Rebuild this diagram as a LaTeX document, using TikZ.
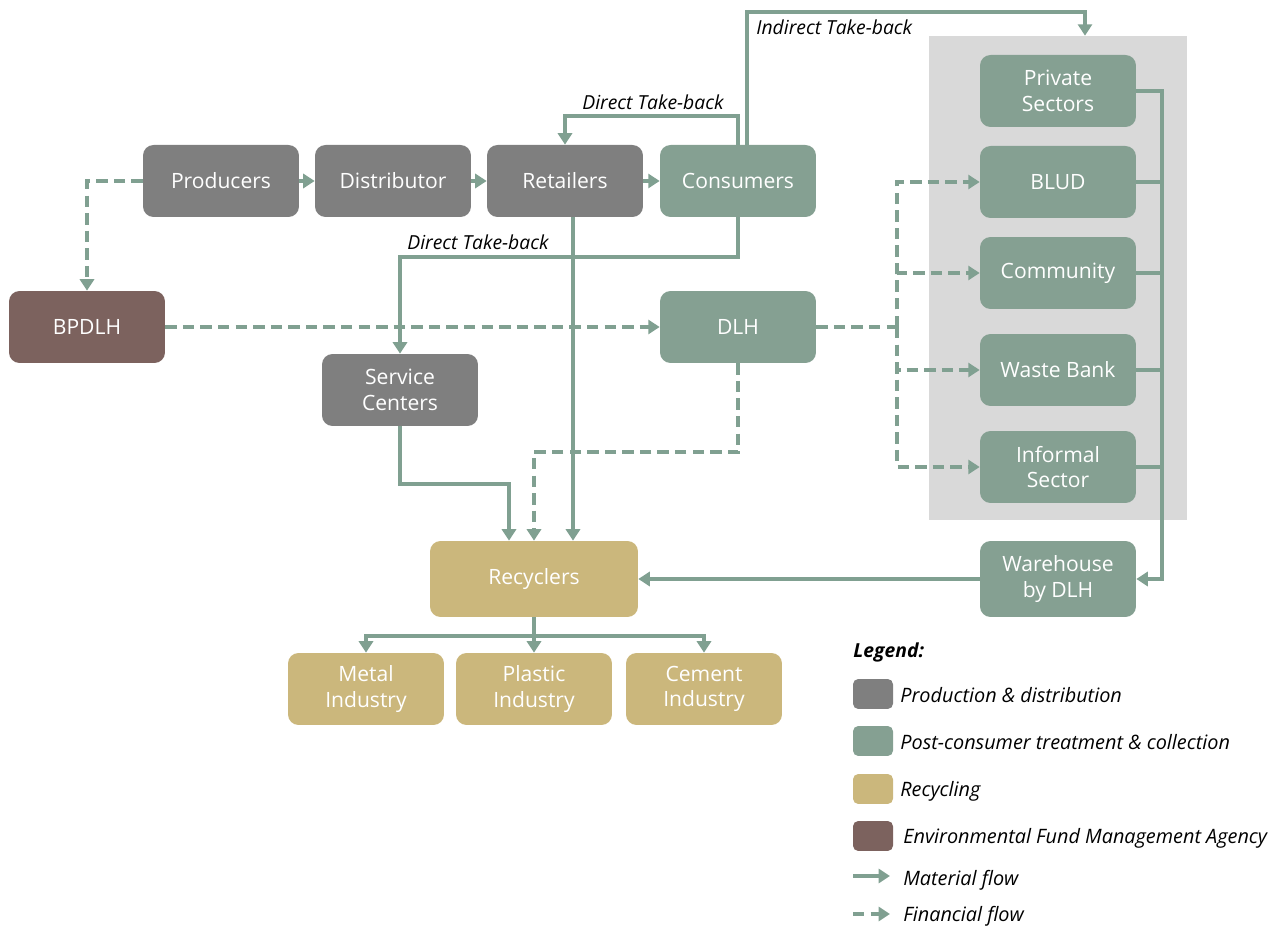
\documentclass[tikz,border=0pt]{standalone}
\usepackage{fontspec}
\setmainfont{Open Sans}
\usetikzlibrary{arrows.meta,calc}
\definecolor{cgray}{RGB}{127,127,127}
\definecolor{cgreen}{RGB}{133,160,146}
\definecolor{ctan}{RGB}{203,183,124}
\definecolor{cbrown}{RGB}{124,98,94}
\definecolor{cbg}{RGB}{217,217,217}
\definecolor{cline}{RGB}{128,160,145}
\begin{document}
\begin{tikzpicture}[x=0.02cm,y=-0.02cm,
  box/.style={rounded corners=6pt, minimum width=3.12cm, minimum height=1.44cm, text=white,
    font=\fontsize{12}{14.5}\selectfont, align=center, inner sep=2pt},
  pd/.style={box, fill=cgray},
  pc/.style={box, fill=cgreen},
  rc/.style={box, fill=ctan},
  ag/.style={box, fill=cbrown},
  mat/.style={draw=cline, line width=2.2pt, -{Triangle[width=8pt,length=6.5pt]}},
  fin/.style={mat, dash pattern=on 6.5pt off 3.5pt},
  plain/.style={draw=cline, line width=2.2pt},
  lbl/.style={font=\fontsize{11}{13}\selectfont\itshape, anchor=west, inner sep=0pt},
  leg/.style={font=\fontsize{11.3}{13}\selectfont\itshape, anchor=west, inner sep=0pt},
  sw/.style={rounded corners=3pt, minimum width=0.8cm, minimum height=0.6cm, inner sep=0pt}
]
\useasboundingbox (0,0) rectangle (1282,928);
% background group
\node[fill=cbg, minimum width=5.16cm, minimum height=9.68cm, inner sep=0pt] (grp) at (1058,278) {};
% nodes
\node[pd] (prod) at (221,181) {Producers};
\node[pd] (dist) at (393,181) {Distributor};
\node[pd] (ret) at (565,181) {Retailers};
\node[pc] (cons) at (738,181) {Consumers};
\node[ag] (bp) at (87,327) {BPDLH};
\node[pc] (dlh) at (738,327) {DLH};
\node[pd] (sc) at (400,390) {Service\\Centers};
\node[rc, minimum width=4.16cm, minimum height=1.52cm] (rec) at (534,579) {Recyclers};
\node[rc] (metal) at (366,689) {Metal\\Industry};
\node[rc] (plast) at (534,689) {Plastic\\Industry};
\node[rc] (cem) at (704,689) {Cement\\Industry};
\node[pc] (priv) at (1058,91) {Private\\Sectors};
\node[pc] (blud) at (1058,182) {BLUD};
\node[pc] (com) at (1058,273) {Community};
\node[pc] (wb) at (1058,370) {Waste Bank};
\node[pc] (inf) at (1058,467) {Informal\\Sector};
\node[pc, minimum height=1.52cm] (wh) at (1058,579) {Warehouse\\by DLH};
% material flows
\draw[mat] (prod) -- (dist);
\draw[mat] (dist) -- (ret);
\draw[mat] (ret) -- (cons);
\draw[mat] (cons.north) -- ++(0,-29) -| (ret.north);
\coordinate (itk) at (1085,12);
\draw[mat] ([xshift=0.18cm]cons.north) |- (itk) -- (grp.north -| itk);
\draw[mat] (cons.south) -- ++(0,40) -| (sc.north);
\draw[mat] ([xshift=0.16cm]ret.south) -- ([xshift=0.16cm]ret.south |- rec.north);
\draw[mat] (sc.south) -- ++(0,58) -| ([xshift=-0.5cm]rec.north);
\coordinate (rb) at (1162,91);
\draw[mat] (priv.east) -- (rb) |- (wh.east);
\draw[plain] (blud.east) -- (blud.east -| rb);
\draw[plain] (com.east) -- (com.east -| rb);
\draw[plain] (wb.east) -- (wb.east -| rb);
\draw[plain] (inf.east) -- (inf.east -| rb);
\draw[mat] (wh) -- (rec);
\coordinate (ri) at (534,636);
\draw[plain] (rec.south) -- (ri);
\draw[mat] (ri) -| (metal.north);
\draw[mat] (ri) -| (cem.north);
\draw[mat] (ri) -- (plast.north);
% financial flows
\draw[fin] (prod.west) -| (bp.north);
\draw[fin] (bp) -- (dlh);
\draw[fin] (dlh.south) -- ++(0,89) -| (rec.north);
\coordinate (bus) at (897,327);
\draw[plain, dash pattern=on 6.5pt off 3.5pt] (dlh.east) -- (bus);
\draw[fin] (bus) |- (blud.west);
\draw[fin] (bus) |- (com.west);
\draw[fin] (bus) |- (wb.west);
\draw[fin] (bus) |- (inf.west);
% labels
\node[lbl] (l1) at (582,102) {Direct Take-back};
\node[lbl] (l2) at (407,242) {Direct Take-back};
\node[lbl] (l3) at (756,27) {Indirect Take-back};
% legend
\node[font=\fontsize{11}{13}\selectfont\bfseries\itshape, anchor=west, inner sep=0pt] (lg) at (853,652) {Legend:};
\node[sw, fill=cgray] (s1) at (873,694) {};
\node[leg] (t1) at (900,695) {Production \& distribution};
\node[sw, fill=cgreen] (s2) at (873,741) {};
\node[leg] (t2) at (900,742) {Post-consumer treatment \& collection};
\node[sw, fill=ctan] (s3) at (873,789) {};
\node[leg] (t3) at (900,791) {Recycling};
\node[sw, fill=cbrown] (s4) at (873,836) {};
\node[leg] (t4) at (903,838) {Environmental Fund Management Agency};
\coordinate (a1) at (853,876);
\coordinate (a2) at (890,876);
\draw[mat] (a1) -- (a2);
\node[leg] (t5) at (903,880) {Material flow};
\coordinate (b1) at (853,914);
\coordinate (b2) at (890,914);
\draw[fin] (b1) -- (b2);
\node[leg] (t6) at (903,916) {Financial flow};
\end{tikzpicture}
\end{document}
